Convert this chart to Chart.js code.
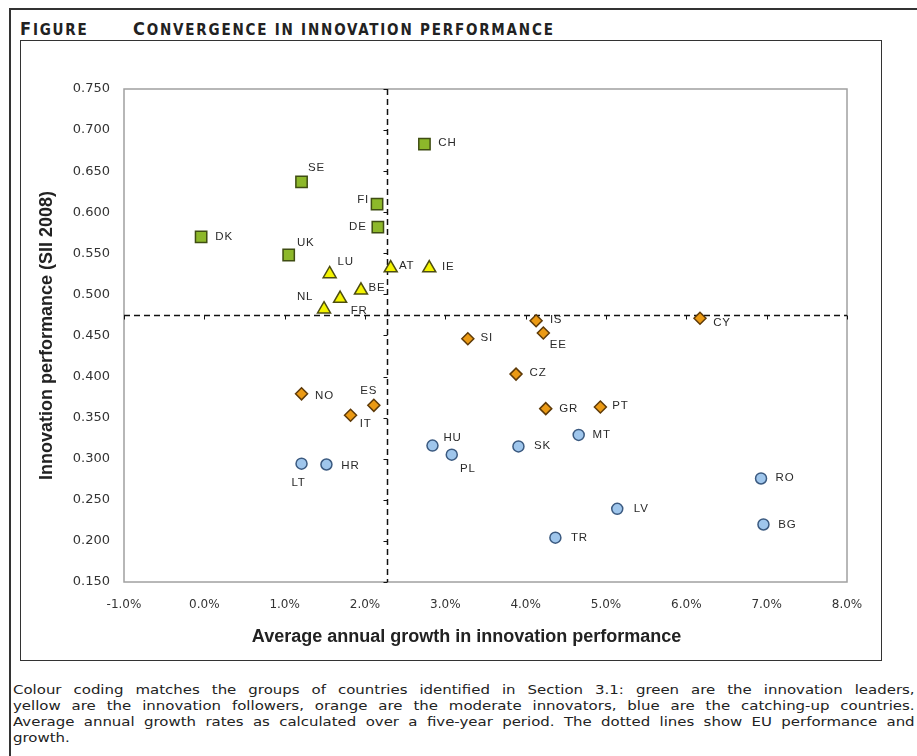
<!DOCTYPE html>
<html>
<head>
<meta charset="utf-8">
<script src="https://cdn.jsdelivr.net/npm/chart.js@4.4.1/dist/chart.umd.min.js"></script>
<style>
  body { margin: 0; background: #fff; width: 917px; height: 756px; overflow: hidden; position: relative; }
  #frame { position: absolute; left: 9px; top: 8px; width: 1000px; height: 800px; border-left: 2px solid #333; border-top: 2px solid #333; }
  .fig-title { position: absolute; top: 18px; font-family: "DejaVu Sans Condensed", "DejaVu Sans", sans-serif; font-weight: bold; font-size: 15px; color: #222; white-space: nowrap; letter-spacing: 1.8px; }
  .fig-title .cap { font-size: 18px; }
  #box { position: absolute; left: 20px; top: 40px; width: 862px; height: 621px; border: 1px solid #333; box-sizing: border-box; }
  #box canvas { position: absolute; left: 0; top: 0; }
  #caption { position: absolute; left: 13px; top: 682px; width: 784px; transform: scaleX(1.15); transform-origin: 0 0; font-family: "DejaVu Sans", sans-serif; font-size: 13px; line-height: 16px; color: #222; }
  #caption div { white-space: nowrap; text-align: justify; text-align-last: justify; }
  #caption div.last { text-align-last: left; }
</style>
</head>
<body>
<div id="frame"></div>
<div class="fig-title" style="left:20px"><span class="cap">F</span>IGURE</div>
<div class="fig-title" style="left:133px"><span class="cap">C</span>ONVERGENCE IN INNOVATION PERFORMANCE</div>
<div id="box"><canvas id="chart" width="860" height="619"></canvas></div>
<div id="caption">
  <div>Colour coding matches the groups of countries identified in Section 3.1: green are the innovation leaders,</div>
  <div>yellow are the innovation followers, orange are the moderate innovators, blue are the catching-up countries.</div>
  <div>Average annual growth rates as calculated over a five-year period. The dotted lines show EU performance and</div>
  <div class="last">growth.</div>
</div>
<script>
// innovation leaders (green)
const leaderCodes = ['DK', 'SE', 'UK', 'FI', 'DE', 'CH'];
const leaderGrowth = [-0.04, 1.21, 1.05, 2.15, 2.16, 2.74];
const leaderPerf = [0.570, 0.637, 0.548, 0.610, 0.582, 0.683];

// innovation followers (yellow)
const followerCodes = ['LU', 'NL', 'FR', 'BE', 'AT', 'IE'];
const followerGrowth = [1.56, 1.49, 1.69, 1.95, 2.32, 2.80];
const followerPerf = [0.525, 0.482, 0.495, 0.505, 0.532, 0.532];

// moderate innovators (orange)
const moderateCodes = ['IS', 'EE', 'SI', 'CZ', 'GR', 'PT', 'CY', 'NO', 'ES', 'IT'];
const moderateGrowth = [4.13, 4.22, 3.28, 3.88, 4.25, 4.93, 6.17, 1.21, 2.11, 1.82];
const moderatePerf = [0.468, 0.453, 0.446, 0.403, 0.361, 0.363, 0.471, 0.379, 0.365, 0.353];

// catching-up countries (blue)
const catchingCodes = ['HU', 'PL', 'LT', 'HR', 'SK', 'MT', 'RO', 'LV', 'BG', 'TR'];
const catchingGrowth = [2.84, 3.08, 1.21, 1.52, 3.91, 4.66, 6.93, 5.14, 6.96, 4.37];
const catchingPerf = [0.316, 0.305, 0.294, 0.293, 0.315, 0.329, 0.276, 0.239, 0.220, 0.204];

// EU reference (dotted lines)
const euGrowth = 2.27;
const euPerformance = 0.475;

// axis ticks
const xTickValues = [-1, 0, 1, 2, 3, 4, 5, 6, 7, 8];
const yTickValues = [0.15, 0.20, 0.25, 0.30, 0.35, 0.40, 0.45, 0.50, 0.55, 0.60, 0.65, 0.70, 0.75];

const xAxisTitle = 'Average annual growth in innovation performance';
const yAxisTitle = 'Innovation performance (SII 2008)';

// label placement next to each marker (dx, dy in px)
const labelOffsets = {
  DK: [23, 0], SE: [15, -14], UK: [17, -12], FI: [-14, -4], DE: [-20, 0], CH: [23, -1],
  LU: [16, -12], NL: [-19, -12], FR: [19, 12], BE: [16, -2], AT: [16, -2], IE: [19, -1],
  IS: [20, -1], EE: [15, 12], SI: [19, -1], CZ: [22, -1], GR: [23, 0], PT: [20, -1],
  CY: [22, 5], NO: [23, 2], ES: [-5, -15], IT: [15, 9],
  HU: [20, -8], PL: [16, 14], LT: [-3, 19], HR: [24, 1], SK: [24, -1], MT: [23, 0],
  RO: [24, -1], LV: [24, 0], BG: [24, 0], TR: [24, 0]
};

function toPoints(growth, perf) {
  return growth.map((g, i) => ({ x: g, y: perf[i] }));
}

// plot box + EU dashed lines with their little ticks
const euLinesPlugin = {
  id: 'euLines',
  beforeDatasetsDraw(chart) {
    const { ctx, chartArea: a, scales: { x, y } } = chart;
    ctx.save();
    ctx.strokeStyle = '#a0a0a0';
    ctx.lineWidth = 1.5;
    ctx.strokeRect(a.left, a.top, a.right - a.left, a.bottom - a.top);

    const px = Math.round(x.getPixelForValue(euGrowth)) + 0.5;
    const py = Math.round(y.getPixelForValue(euPerformance)) + 0.5;
    ctx.strokeStyle = '#111';
    ctx.lineWidth = 1.5;
    ctx.setLineDash([6, 4]);
    ctx.beginPath();
    ctx.moveTo(px, a.top); ctx.lineTo(px, a.bottom);
    ctx.moveTo(a.left, py); ctx.lineTo(a.right, py);
    ctx.stroke();

    ctx.setLineDash([]);
    ctx.lineWidth = 1;
    ctx.beginPath();
    xTickValues.forEach(v => {
      const tx = Math.round(x.getPixelForValue(v)) + 0.5;
      ctx.moveTo(tx, py); ctx.lineTo(tx, py + 4);
    });
    yTickValues.forEach(v => {
      const ty = Math.round(y.getPixelForValue(v)) + 0.5;
      ctx.moveTo(px, ty); ctx.lineTo(px - 4, ty);
    });
    ctx.stroke();
    ctx.restore();
  }
};

// country codes next to markers, and the x axis title (sits a bit left of the plot centre)
const codeLabelsPlugin = {
  id: 'codeLabels',
  afterDatasetsDraw(chart) {
    const { ctx } = chart;
    ctx.save();
    ctx.font = '11.5px "Liberation Sans", Arial, sans-serif';
    ctx.fillStyle = '#2a2a2a';
    ctx.textAlign = 'center';
    ctx.textBaseline = 'middle';
    if ('letterSpacing' in ctx) ctx.letterSpacing = '0.8px';
    chart.data.datasets.forEach((ds, di) => {
      chart.getDatasetMeta(di).data.forEach((pt, i) => {
        const code = ds.codes[i];
        const off = labelOffsets[code] || [20, 0];
        ctx.fillText(code, pt.x + off[0], pt.y + off[1]);
      });
    });
    ctx.restore();
  },
  afterDraw(chart) {
    const { ctx, chartArea: a } = chart;
    ctx.save();
    ctx.font = 'bold 18px "Liberation Sans", Arial, sans-serif';
    ctx.fillStyle = '#222';
    ctx.textAlign = 'center';
    ctx.textBaseline = 'middle';
    ctx.fillText(xAxisTitle, (a.left + a.right) / 2 - 19, a.bottom + 55);
    ctx.restore();
  }
};

const titleFont = { family: '"Liberation Sans", Arial, sans-serif', size: 18, weight: 'bold' };

new Chart(document.getElementById('chart').getContext('2d'), {
  type: 'scatter',
  data: {
    datasets: [
      {
        label: 'Innovation leaders', codes: leaderCodes,
        data: toPoints(leaderGrowth, leaderPerf),
        pointStyle: 'rect', pointRadius: 8, pointHoverRadius: 8,
        backgroundColor: '#8db82a', borderColor: '#3f4d12', borderWidth: 1.5
      },
      {
        label: 'Innovation followers', codes: followerCodes,
        data: toPoints(followerGrowth, followerPerf),
        pointStyle: 'triangle', pointRadius: 7.5, pointHoverRadius: 7.5,
        backgroundColor: '#f4f400', borderColor: '#4d4d10', borderWidth: 1.5
      },
      {
        label: 'Moderate innovators', codes: moderateCodes,
        data: toPoints(moderateGrowth, moderatePerf),
        pointStyle: 'rectRot', pointRadius: 6, pointHoverRadius: 6,
        backgroundColor: '#eb9a14', borderColor: '#5e3a08', borderWidth: 1.5
      },
      {
        label: 'Catching-up countries', codes: catchingCodes,
        data: toPoints(catchingGrowth, catchingPerf),
        pointStyle: 'circle', pointRadius: 5.5, pointHoverRadius: 5.5,
        backgroundColor: '#9fc6ec', borderColor: '#3b5a80', borderWidth: 1.5
      }
    ]
  },
  options: {
    responsive: false,
    animation: false,
    devicePixelRatio: 1,
    layout: { padding: { left: 0, top: 48, right: 34, bottom: 0 } },
    plugins: {
      legend: { display: false },
      tooltip: { enabled: false }
    },
    scales: {
      x: {
        type: 'linear', min: -1, max: 8,
        afterBuildTicks: s => { s.ticks = xTickValues.map(v => ({ value: v })); },
        afterFit: s => { s.height = 78; },
        grid: { display: false, drawTicks: false },
        border: { display: false },
        ticks: {
          padding: 16, color: '#333', maxRotation: 0,
          font: { family: '"DejaVu Sans", sans-serif', size: 12 },
          callback: v => v.toFixed(1) + '%'
        }
      },
      y: {
        type: 'linear', min: 0.15, max: 0.75,
        afterBuildTicks: s => { s.ticks = yTickValues.map(v => ({ value: v })); },
        afterFit: s => { s.width = 103; },
        grid: { display: false, drawTicks: false },
        border: { display: false },
        ticks: {
          padding: 14, color: '#333',
          font: { family: '"DejaVu Sans", sans-serif', size: 13 },
          callback: v => v.toFixed(3)
        },
        title: {
          display: true, text: yAxisTitle,
          color: '#222', font: titleFont, padding: { top: 15, bottom: 0 }
        }
      }
    }
  },
  plugins: [euLinesPlugin, codeLabelsPlugin]
});
</script>
</body>
</html>
